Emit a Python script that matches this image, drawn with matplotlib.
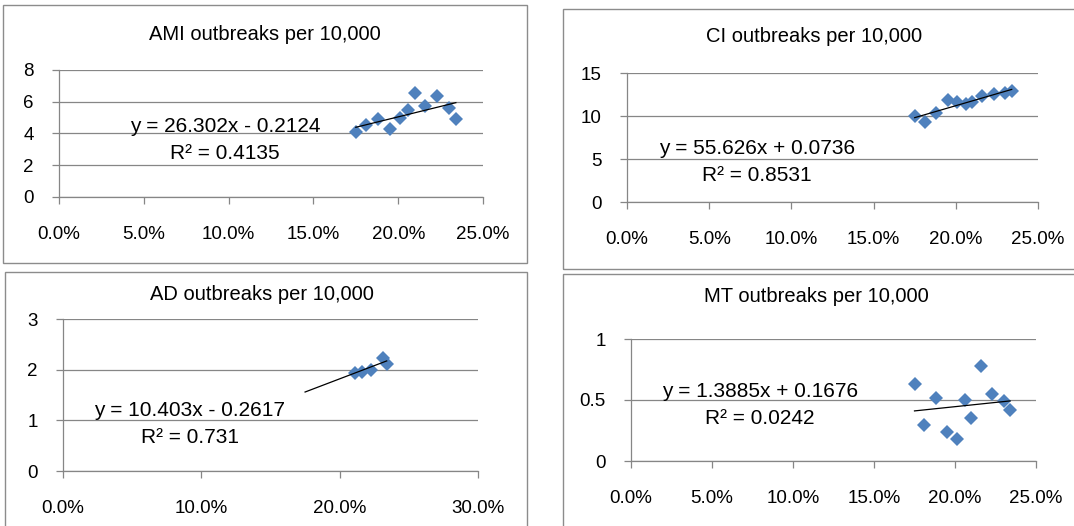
import matplotlib
matplotlib.use("Agg")
import matplotlib.pyplot as plt
from matplotlib.patches import Rectangle
from matplotlib.ticker import FuncFormatter, MultipleLocator
import numpy as np

# ---------------- data ----------------
x_share = [0.175, 0.181, 0.188, 0.195, 0.201, 0.206, 0.210, 0.216, 0.223, 0.230, 0.234]
ami = [4.10, 4.52, 4.90, 4.27, 4.98, 5.50, 6.54, 5.71, 6.35, 5.60, 4.94]
ci = [10.0, 9.26, 10.39, 11.83, 11.67, 11.40, 11.60, 12.37, 12.53, 12.65, 12.92]
ad_x = [0.211, 0.216, 0.223, 0.231, 0.234]
ad = [1.94, 1.96, 2.00, 2.23, 2.12]
mt = [0.628, 0.294, 0.514, 0.236, 0.183, 0.50, 0.356, 0.781, 0.55, 0.489, 0.417]

titles = ["AMI outbreaks per 10,000", "CI outbreaks per 10,000",
          "AD outbreaks per 10,000", "MT outbreaks per 10,000"]
slopes = [26.302, 55.626, 10.403, 1.3885]
intercepts = [-0.2124, 0.0736, -0.2617, 0.1676]
eq_labels = ["y = 26.302x - 0.2124", "y = 55.626x + 0.0736",
             "y = 10.403x - 0.2617", "y = 1.3885x + 0.1676"]
r2_labels = ["R\u00b2 = 0.4135", "R\u00b2 = 0.8531", "R\u00b2 = 0.731", "R\u00b2 = 0.0242"]

# ---------------- layout (pixels, from top-left) ----------------
W, H = 1074, 526
plt.rcParams['font.family'] = ['Liberation Sans', 'DejaVu Sans']

fig = plt.figure(figsize=(W / 100, H / 100), dpi=100)
fig.patch.set_facecolor('white')

def frac_rect(l, t, r, b):
    return [l / W, 1 - b / H, (r - l) / W, (b - t) / H]

panels = [
    dict(box=(3, 5, 527, 263), ax=(59, 70, 483, 197), xs=x_share, ys=ami,
         xmax=0.25, xstep=0.05, ymax=8, ystep=2, title_x=265, title_y=34,
         eq=(225, 140), trend_from=None),
    dict(box=(563, 9, 1090, 269), ax=(627, 73, 1038, 202), xs=x_share, ys=ci,
         xmax=0.25, xstep=0.05, ymax=15, ystep=5, title_x=814, title_y=36,
         eq=(757, 162), trend_from=None),
    dict(box=(5, 272, 527, 540), ax=(63, 319, 478, 471), xs=ad_x, ys=ad,
         xmax=0.30, xstep=0.10, ymax=3, ystep=1, title_x=262, title_y=294,
         eq=(190, 424), trend_from=min(x_share)),
    dict(box=(563, 274, 1090, 540), ax=(631, 339, 1036, 461), xs=x_share, ys=mt,
         xmax=0.25, xstep=0.05, ymax=1, ystep=0.5, title_x=816, title_y=296,
         eq=(760, 405), trend_from=None),
]

grid_c = '#868686'
blue = '#4F81BD'

for i, p in enumerate(panels):
    bl, bt, br, bb = p['box']
    fig.add_artist(Rectangle((bl / W, 1 - bb / H), (br - bl) / W, (bb - bt) / H,
                             transform=fig.transFigure, fill=False,
                             edgecolor='#8c8c8c', linewidth=1.0))
    al, at, ar, ab = p['ax']
    ax = fig.add_axes(frac_rect(al, at, ar, ab))
    ax.set_xlim(0, p['xmax'])
    ax.set_ylim(0, p['ymax'])
    ax.xaxis.set_major_locator(MultipleLocator(p['xstep']))
    ax.yaxis.set_major_locator(MultipleLocator(p['ystep']))
    ax.xaxis.set_major_formatter(FuncFormatter(lambda v, pos: f"{v*100:.1f}%"))
    if p['ystep'] < 1:
        ax.yaxis.set_major_formatter(FuncFormatter(lambda v, pos: f"{v:g}"))
    else:
        ax.yaxis.set_major_formatter(FuncFormatter(lambda v, pos: f"{int(round(v))}"))
    for s in ['top', 'right']:
        ax.spines[s].set_visible(False)
    for s in ['left', 'bottom']:
        ax.spines[s].set_color(grid_c)
        ax.spines[s].set_linewidth(0.9)
    ax.tick_params(axis='both', direction='out', length=5, width=0.9,
                   color=grid_c, labelsize=13.5, labelcolor='black')
    ax.tick_params(axis='x', pad=16)
    ax.tick_params(axis='y', pad=13)
    ax.grid(axis='y', color=grid_c, linewidth=0.9)
    ax.set_axisbelow(True)
    ax.patch.set_alpha(0)

    ax.plot(p['xs'], p['ys'], linestyle='none', marker='D', markersize=7,
            color=blue, markeredgewidth=0, clip_on=False, zorder=3)
    x0 = p['trend_from'] if p['trend_from'] is not None else min(p['xs'])
    tx = np.array([x0, max(p['xs'])])
    ax.plot(tx, slopes[i] * tx + intercepts[i], color='black', linewidth=0.9, zorder=4)

    fig.text(p['title_x'] / W, 1 - p['title_y'] / H, titles[i], ha='center',
             va='center', fontsize=14.5)
    ex, ey = p['eq']
    fig.text(ex / W, 1 - ey / H, eq_labels[i] + "\n" + r2_labels[i],
             ha='center', va='center', multialignment='center',
             fontsize=15, linespacing=1.58)

fig.savefig('out.png', dpi=100, facecolor='white')
